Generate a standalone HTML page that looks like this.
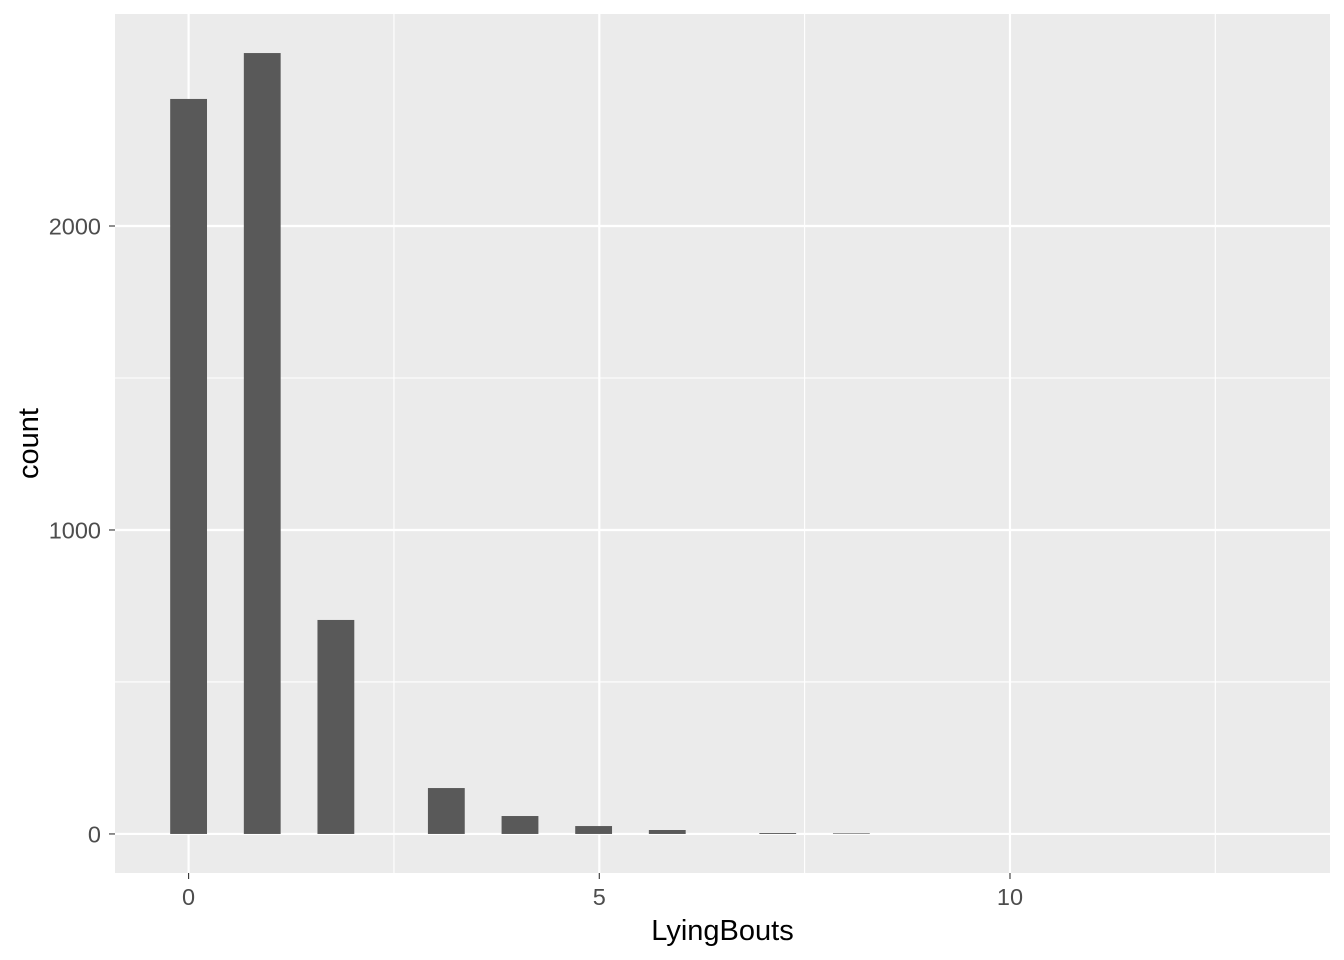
<!DOCTYPE html>
<html><head><meta charset="utf-8"><style>
html,body{margin:0;padding:0;background:#fff;}
svg{display:block;font-family:"Liberation Sans",Arial,sans-serif;}
</style></head><body>
<svg id="chart" width="1344" height="960"></svg>
<script>
const binCenters = [0, 0.8966, 1.7931, 3.1379, 4.0345, 4.9310, 5.8276, 7.1724, 8.0690];
const counts = [2418, 2569, 704, 151, 59, 26, 13, 3, 2];
const xTicks = [0, 5, 10];
const xMinor = [2.5, 7.5, 12.5];
const yTicks = [0, 1000, 2000];
const yMinor = [500, 1500];
const binWidth = 13 / 29;

const NS = "http://www.w3.org/2000/svg";
const svg = document.getElementById("chart");
const P = {l: 115, r: 1330, t: 14, b: 873};
const xMin = -0.896, xMax = 13.896;
const yMax = Math.max(...counts) * 1.05, yMin = -Math.max(...counts) * 0.05;
const X = v => P.l + (v - xMin) / (xMax - xMin) * (P.r - P.l);
const Y = v => P.b - (v - yMin) / (yMax - yMin) * (P.b - P.t);
function mk(tag, attrs, parent) {
  const e = document.createElementNS(NS, tag);
  for (const k in attrs) e.setAttribute(k, attrs[k]);
  (parent || svg).appendChild(e);
  return e;
}
const bg = mk("rect", {x: P.l, y: P.t, width: P.r - P.l, height: P.b - P.t, fill: "#ebebeb"});


xMinor.forEach(v => { const l = mk("line", {x1: X(v), x2: X(v), y1: P.t, y2: P.b, stroke: "#fff", "stroke-width": 1.1});
    });
yMinor.forEach(v => { const l = mk("line", {x1: P.l, x2: P.r, y1: Y(v), y2: Y(v), stroke: "#fff", "stroke-width": 1.1});
    });
xTicks.forEach(v => { const l = mk("line", {x1: X(v), x2: X(v), y1: P.t, y2: P.b, stroke: "#fff", "stroke-width": 2.2});
   
  const t = mk("line", {x1: X(v), x2: X(v), y1: P.b, y2: P.b + 6, stroke: "#333", "stroke-width": 1.1});
   
  const tx = mk("text", {x: X(v), y: P.b + 32, "text-anchor": "middle", "font-size": 23.5, fill: "#4d4d4d"});
  tx.textContent = v;
    });
yTicks.forEach(v => { const l = mk("line", {x1: P.l, x2: P.r, y1: Y(v), y2: Y(v), stroke: "#fff", "stroke-width": 2.2});
   
  const t = mk("line", {x1: P.l - 6, x2: P.l, y1: Y(v), y2: Y(v), stroke: "#333", "stroke-width": 1.1});
   
  const tx = mk("text", {x: P.l - 14, y: Y(v) + 8.5, "text-anchor": "end", "font-size": 23.5, fill: "#4d4d4d"});
  tx.textContent = v;
    });
binCenters.forEach((c, i) => {
  const x0 = X(c - binWidth / 2), x1 = X(c + binWidth / 2);
  const r = mk("rect", {x: x0, y: Y(counts[i]), width: x1 - x0, height: Y(0) - Y(counts[i]), fill: "#595959"});
  
  
});
const xt = mk("text", {x: (P.l + P.r) / 2, y: 940, "text-anchor": "middle", "font-size": 29, fill: "#000"});
xt.textContent = "LyingBouts";


const yt = mk("text", {x: 0, y: 0, "text-anchor": "middle", "font-size": 29, fill: "#000", transform: `translate(38,${(P.t + P.b) / 2}) rotate(-90)`});
yt.textContent = "count";


</script>
</body></html>
